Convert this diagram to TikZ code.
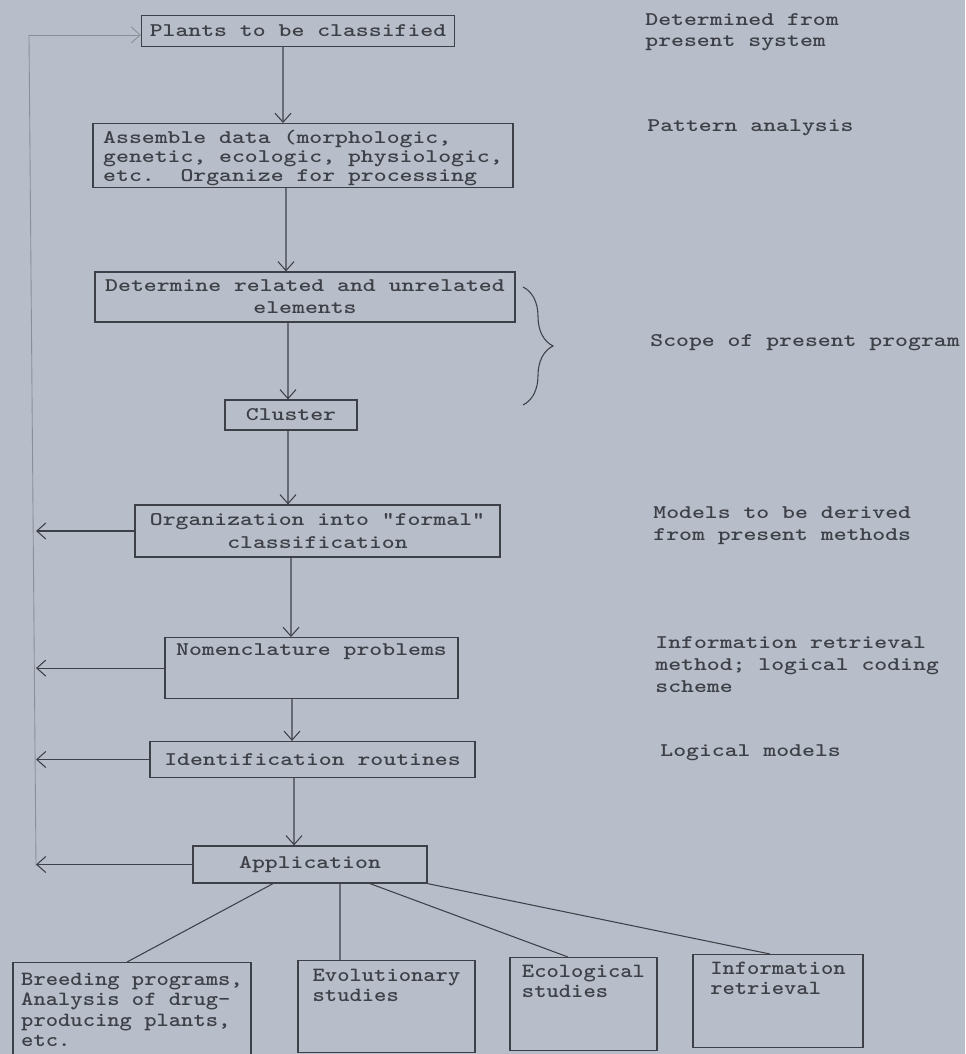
\documentclass[tikz,border=0pt]{standalone}
\usepackage{fontspec}
\usetikzlibrary{arrows.meta,decorations.pathreplacing}
\definecolor{paper}{RGB}{184,190,201}
\definecolor{ink}{RGB}{62,64,72}
\definecolor{faint}{RGB}{138,143,153}
\newfontfamily\typer[FakeStretch=1.27]{lmmonolt10-bold.otf}
\newfontfamily\leafer[FakeStretch=1.16]{lmmonolt10-bold.otf}
\begin{document}
\begin{tikzpicture}[x=0.2mm, y=-0.2mm, >={Straight Barb[length=1.8mm,width=3.2mm]},
  box/.style={draw=ink, line width=0.7pt, text=ink, inner sep=0pt, font=\typer\fontsize{11}{12.6}\selectfont},
  leaf/.style={box, anchor=north, align=left, font=\leafer\fontsize{11.5}{11.6}\selectfont},
  note/.style={text=ink, inner sep=0pt, anchor=base west, align=left, font=\typer\fontsize{11}{12.4}\selectfont},
  link/.style={ink, line width=0.6pt}]

\useasboundingbox (0,0) rectangle (965,1054);
\fill [paper] (0,0) rectangle (965,1054);

\node [box, minimum width=62.6mm, minimum height=6.2mm] (plants) at (298,31) {Plants to be classified};
\node [box, anchor=north, minimum width=84mm, text height=11.6mm, text depth=1.2mm, align=left, font=\typer\fontsize{11}{10.8}\selectfont] (assemble) at (303,123) {Assemble data (morphologic,\\genetic, ecologic, physiologic,\\etc.\ \ Organize for processing};
\node [box, minimum width=84mm, minimum height=10mm, align=center] (determine) at (305,297) {Determine related and unrelated\\elements};
\node [box, minimum width=26.4mm, minimum height=6mm] (cluster) at (291,415) {Cluster};
\node [box, minimum width=73mm, minimum height=10.4mm, align=center] (formal) at (317.5,531) {Organization into "formal"\\classification};
\node [box, anchor=north, minimum width=58.6mm, text height=3.6mm, text depth=8.6mm] (nomen) at (311.5,637) {Nomenclature problems};
\node [box, minimum width=65mm, minimum height=7.2mm] (ident) at (312.5,759.5) {Identification routines};
\node [box, minimum width=46.8mm, minimum height=7.4mm] (app) at (310,864.5) {Application};

\node [leaf, minimum width=47.6mm, text height=16.8mm, text depth=2.4mm] (breed) at (132,962) {Breeding programs,\\Analysis of drug-\\producing plants,\\etc.};
\node [leaf, minimum width=35.4mm, text height=8.2mm, text depth=10.2mm] (evol) at (386.5,960) {Evolutionary\\studies};
\node [leaf, minimum width=29.4mm, text height=8mm, text depth=10.6mm] (eco) at (583.5,957) {Ecological\\studies};
\node [leaf, minimum width=34mm, text height=8mm, text depth=10.6mm] (info) at (778,954) {Information\\retrieval};

\node [note] (present) at (645,47) {Determined from\\present system};
\node [note] (pattern) at (647,132) {Pattern analysis};
\node [note] (scope) at (650,347) {Scope of present program};
\node [note] (models) at (653,540) {Models to be derived\\from present methods};
\node [note] (retrieval) at (655,692) {Information retrieval\\method; logical coding\\scheme};
\node [note] (logical) at (660,756) {Logical models};

\draw [link, ->] ([xshift=-3mm]plants.south) -- ([xshift=-4mm]assemble.north);
\draw [link, ->] ([xshift=-3.4mm]assemble.south) -- ([xshift=-3.8mm]determine.north);
\draw [link, ->] ([xshift=-3.4mm]determine.south) -- ([xshift=-0.6mm]cluster.north);
\draw [link, ->] ([xshift=-0.6mm]cluster.south) -- ([xshift=-5.9mm]formal.north);
\draw [link, ->] ([xshift=-5.3mm]formal.south) -- ([xshift=-4.1mm]nomen.north);
\draw [link, ->] ([xshift=-3.9mm]nomen.south) -- ([xshift=-4.1mm]ident.north);
\draw [link, ->] ([xshift=-3.7mm]ident.south) -- ([xshift=-3.2mm]app.north);

\coordinate (loopbot) at (36,866);
\coordinate (looptop) at (29,35);
\draw [faint, line width=0.5pt] (loopbot) -- (looptop);
\draw [faint, line width=0.5pt, ->] (looptop) -- (looptop -| plants.west);

\draw [link, ->] (formal.west) -- (formal.west -| loopbot);
\draw [link, ->] (nomen.west) -- (nomen.west -| loopbot);
\draw [link, ->] (ident.west) -- (ident.west -| loopbot);
\draw [link, ->] (app.west) -- (app.west -| loopbot);

\draw [link] ([xshift=-7.4mm]app.south) -- ([xshift=-1mm]breed.north);
\draw [link] ([xshift=6mm]app.south) -- ([xshift=-9.3mm]evol.north);
\draw [link] ([xshift=12mm]app.south) -- ([xshift=-3.1mm]eco.north);
\draw [link] (app.south east) -- ([xshift=-1.6mm]info.north);

\draw [ink, line width=0.6pt, decorate, decoration={brace, amplitude=6mm}] (523,287) -- (523,405);

\end{tikzpicture}
\end{document}
